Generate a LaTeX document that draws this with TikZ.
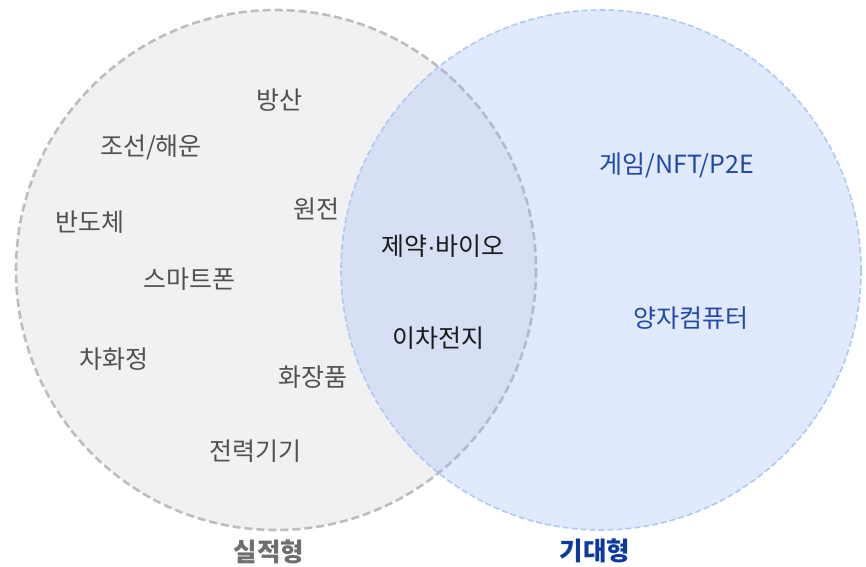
\documentclass[tikz,border=0pt]{standalone}
\usepackage{fontspec}
\setmainfont{Noto Sans CJK KR}
\newfontfamily\latinfont{Liberation Sans}
\definecolor{leftfill}{HTML}{F1F1F1}
\definecolor{leftline}{HTML}{BDBDBD}
\definecolor{rightfill}{RGB}{152,182,248}
\definecolor{rightline}{HTML}{AFC8F6}
\definecolor{graytext}{HTML}{505050}
\definecolor{darktext}{HTML}{1A1A1A}
\definecolor{bluetext}{HTML}{1F48A8}
\definecolor{titlegray}{HTML}{6E6E6E}
\definecolor{titleblue}{HTML}{0B3A9E}
\begin{document}
\begin{tikzpicture}[x=1pt,y=-1pt,
  lbl/.style={inner sep=0pt, font=\fontsize{25}{29}\selectfont},
  grayl/.style={lbl, text=graytext},
  darkl/.style={lbl, text=darktext},
  bluel/.style={lbl, text=bluetext},
  ttl/.style={inner sep=0pt, font=\fontsize{25.5}{29}\selectfont\bfseries}]
\useasboundingbox (0,0) rectangle (866,566);
% circles
\path[fill=leftfill, draw=leftline, line width=2.6pt, dash pattern=on 8pt off 4pt]
  (276,270) circle[radius=260];
\path[fill=rightfill, fill opacity=0.3, draw=rightline, draw opacity=1, line width=1.6pt, dash pattern=on 6pt off 3pt]
  (601,270) circle[radius=260];
% left labels
\node[grayl] (bangsan) at (279,100) {방산};
\node[grayl] (joseon) at (151,147) {조선/해운};
\node[grayl] (bando) at (90,222) {반도체};
\node[grayl] (wonjeon) at (316,209) {원전};
\node[grayl] (smart) at (189,279) {스마트폰};
\node[grayl] (chahwa) at (114,359) {차화정};
\node[grayl] (hwajang) at (313,377) {화장품};
\node[grayl] (jeonryeok) at (255,451) {전력기기};
% overlap labels
\node[darkl] (bio) at (443,246) {제약{\latinfont ·}바이오};
\node[darkl] (battery) at (438,338) {이차전지};
% right labels
\node[bluel] (game) at (677,165) {게임/NFT/P2E};
\node[bluel] (quantum) at (691,318) {양자컴퓨터};
% titles
\node[ttl, text=titlegray] (siljeok) at (269,552) {실적형};
\node[ttl, text=titleblue] (gidae) at (595,551) {기대형};
\end{tikzpicture}
\end{document}
